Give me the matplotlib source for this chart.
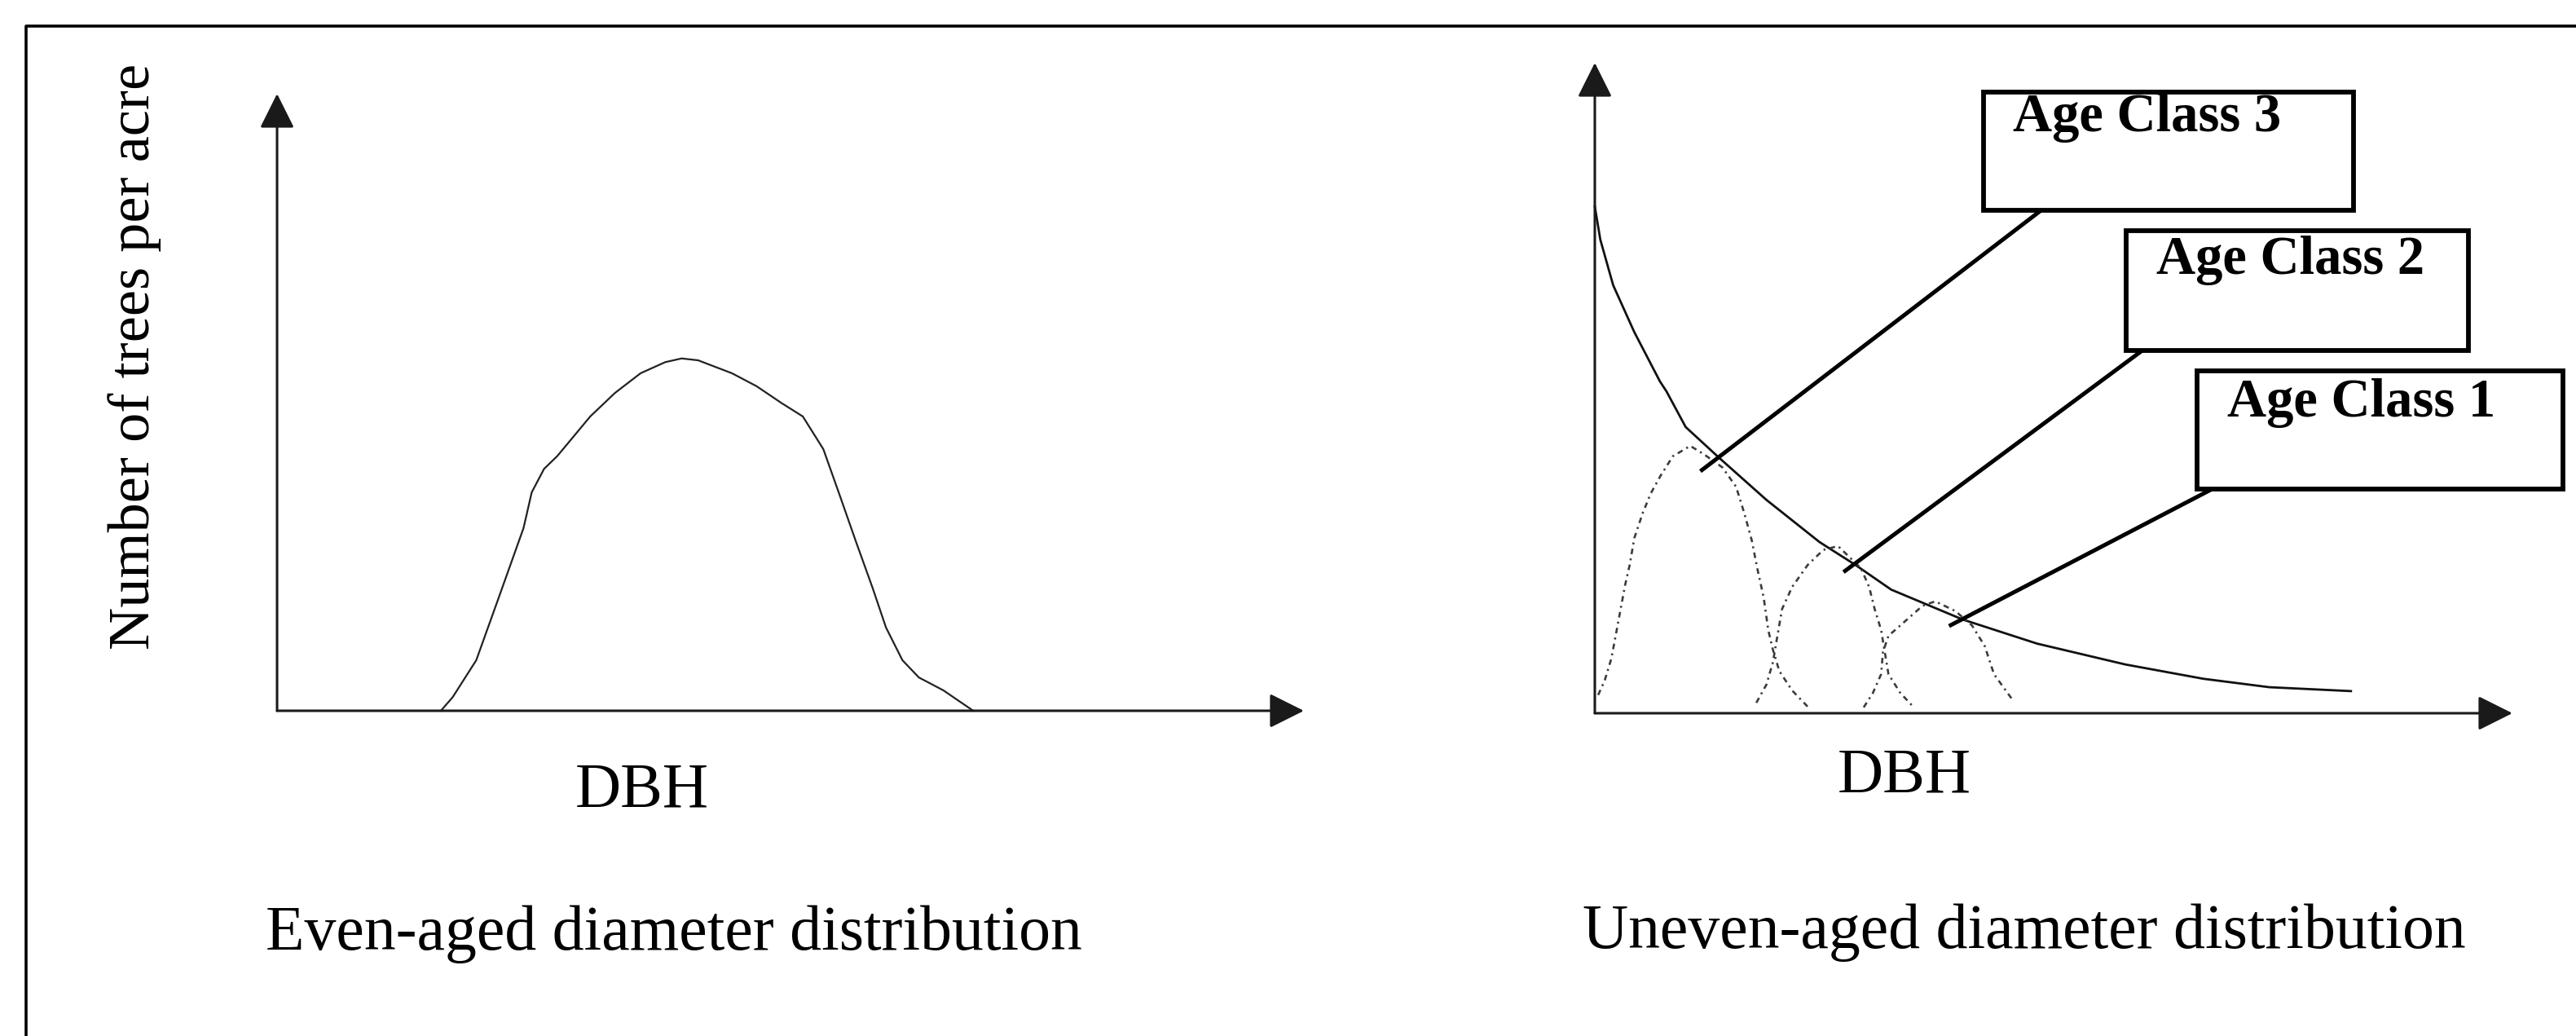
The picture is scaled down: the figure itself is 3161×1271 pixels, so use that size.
import matplotlib
matplotlib.use("Agg")
import matplotlib.pyplot as plt
from matplotlib.patches import Rectangle
from matplotlib.lines import Line2D

plt.rcParams['font.family'] = ['Liberation Serif', 'DejaVu Serif']

# ---------------- data (arbitrary DBH / trees-per-acre units, 0-100) ----------------
even_dbh = [15.95, 17.1, 19.4, 21.6, 24.0, 24.8, 26.0, 27.3, 28.9, 30.5, 32.9, 35.4,
            37.8, 39.4, 41.0, 44.3, 46.7, 49.1, 51.2, 53.2, 54.8, 56.4, 58.0, 59.3,
            60.9, 62.5, 64.9, 67.8]
even_trees = [0, 2.2, 8.2, 18.4, 29.6, 35.4, 39.2, 41.3, 44.5, 47.7, 51.5, 54.7,
              56.5, 57.1, 56.8, 54.7, 52.6, 49.9, 47.7, 42.4, 34.9, 27.3, 19.9, 13.5,
              8.2, 5.4, 3.3, 0]

uneven_dbh = [0, 0.6, 2.0, 4.3, 7.1, 7.8, 9.9, 13.6, 18.7, 24.5, 28.4, 32.3, 40.1,
              48.2, 57.8, 66.3, 73.5, 82.4]
uneven_trees = [77.9, 72.8, 65.8, 58.6, 51.0, 49.5, 44.0, 39.2, 32.8, 26.3, 22.8, 19.0,
                14.4, 10.7, 7.5, 5.3, 4.0, 3.4]

age3_dbh = [0.36, 1.07, 1.8, 2.6, 3.3, 3.8, 4.3, 5.2, 6.1, 7.2, 8.5, 10.4, 11.9, 13.9,
            15.4, 16.3, 17.1, 17.7, 18.4, 18.9, 19.4, 20.1, 21.5, 23.2]
age3_trees = [2.8, 5.0, 8.4, 14.4, 19.7, 22.8, 26.9, 30.7, 33.8, 36.6, 39.5, 41.1, 39.8,
              37.8, 34.8, 30.7, 26.6, 22.3, 17.8, 12.8, 9.8, 6.5, 3.5, 1.0]

age2_dbh = [17.6, 18.7, 19.4, 19.9, 20.4, 21.5, 23.2, 24.9, 26.5, 29.0, 29.9, 30.5,
            31.2, 31.6, 32.0, 33.3, 34.7]
age2_trees = [1.6, 4.4, 7.8, 11.9, 16.0, 19.4, 22.8, 25.1, 25.7, 22.3, 19.4, 16.0,
              12.8, 9.4, 6.0, 3.1, 1.0]

age1_dbh = [29.3, 30.3, 31.2, 31.4, 32.0, 33.3, 35.7, 37.1, 39.3, 41.1, 42.5, 43.5, 45.6]
age1_trees = [0.9, 3.1, 6.0, 9.4, 11.9, 13.5, 16.5, 17.2, 15.7, 13.5, 10.3, 6.0, 1.9]

age_labels = ["Age Class 3", "Age Class 2", "Age Class 1"]
# leader lines: (start on curve) -> (end at box)
leader_start = [(11.5, 37.2), (27.1, 21.7), (38.6, 13.4)]
leader_end = [(50.1, 78.9), (61.7, 57.9), (69.5, 36.1)]
# boxes: x0, x1, y0, y1
boxes = [(42.4, 82.7, 77.3, 95.5), (57.9, 95.2, 55.8, 74.2), (65.6, 105.5, 34.5, 52.6)]
label_pos = [(45.6, 89.5), (61.2, 67.6), (68.9, 45.6)]

ylabel_text = "Number of trees per acre"
xlabel_text = "DBH"
left_title = "Even-aged diameter distribution"
right_title = "Uneven-aged diameter distribution"

# ---------------- figure ----------------
W, H = 3161, 1271
fig = plt.figure(figsize=(W / 100, H / 100), dpi=100)
fig.patch.set_facecolor('white')

def fx(px):
    return px / W

def fy(py):
    return 1 - py / H

# outer frame (top and left visible)
fig.add_artist(Line2D([fx(32), fx(32), fx(W + 10)], [fy(H + 10), fy(32), fy(32)],
                      color='black', lw=2.6, transform=fig.transFigure))

arrow_kw = dict(arrowstyle='-|>,head_length=0.4,head_width=0.2', mutation_scale=66,
                lw=2.2, color='#1a1a1a', shrinkA=0, shrinkB=0)

# left panel axes
axL = fig.add_axes([fx(340), fy(872), fx(1600) - fx(340), fy(115) - fy(872)])
axL.set_xlim(0, 100)
axL.set_ylim(0, 100)
axL.axis('off')
axL.annotate('', xy=(100, 0), xytext=(0, 0), arrowprops=arrow_kw, annotation_clip=False)
axL.annotate('', xy=(0, 100), xytext=(0, 0), arrowprops=arrow_kw, annotation_clip=False)
axL.plot(even_dbh, even_trees, color='#222222', lw=1.6, clip_on=False)

# right panel axes
axR = fig.add_axes([fx(1957), fy(875), fx(3083) - fx(1957), fy(77) - fy(875)])
axR.set_xlim(0, 100)
axR.set_ylim(0, 100)
axR.axis('off')
axR.annotate('', xy=(100, 0), xytext=(0, 0), arrowprops=arrow_kw, annotation_clip=False)
axR.annotate('', xy=(0, 100), xytext=(0, 0), arrowprops=arrow_kw, annotation_clip=False)
axR.plot(uneven_dbh, uneven_trees, color='#111111', lw=2.0, clip_on=False)

dot_kw = dict(color='#3c3c3c', lw=1.9, dashes=(2.6, 2.0, 0.9, 2.0), clip_on=False)
axR.plot(age3_dbh, age3_trees, **dot_kw)
axR.plot(age2_dbh, age2_trees, **dot_kw)
axR.plot(age1_dbh, age1_trees, **dot_kw)

for (s, e) in zip(leader_start, leader_end):
    axR.plot([s[0], e[0]], [s[1], e[1]], color='black', lw=3.6, clip_on=False,
             solid_capstyle='butt')

for (x0, x1, y0, y1), lab, (tx, ty) in zip(boxes, age_labels, label_pos):
    axR.add_patch(Rectangle((x0, y0), x1 - x0, y1 - y0, fill=True, facecolor='white',
                            edgecolor='black', lw=4.2, clip_on=False, zorder=3))
    axR.text(tx, ty, lab, fontsize=48, fontweight='bold', ha='left', va='baseline',
             zorder=4, clip_on=False)

# texts
fig.text(fx(165), fy(437), ylabel_text, rotation=90, fontsize=52, ha='center', va='center')
fig.text(fx(788), fy(990), xlabel_text, fontsize=56, ha='center', va='baseline')
fig.text(fx(2337), fy(972), xlabel_text, fontsize=56, ha='center', va='baseline')
fig.text(fx(827), fy(1165), left_title, fontsize=56, ha='center', va='baseline')
fig.text(fx(2484), fy(1163), right_title, fontsize=56, ha='center', va='baseline')

fig.savefig('out.png', dpi=100, facecolor='white')
